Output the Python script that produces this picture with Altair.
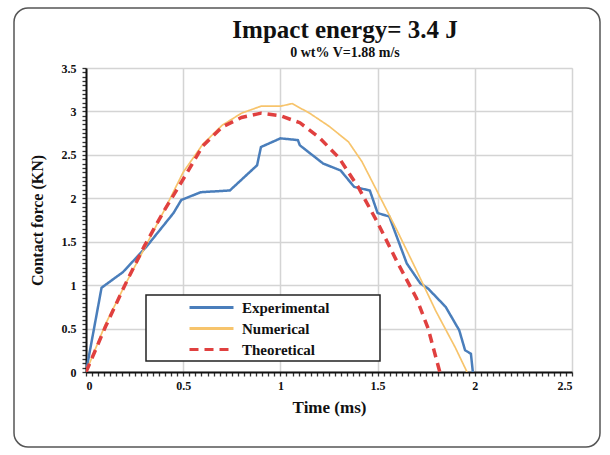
import altair as alt
import pandas as pd

# ---- data ----
exp_t = [0, 0.08, 0.19, 0.31, 0.45, 0.49, 0.59, 0.74, 0.88, 0.90, 1.00, 1.09, 1.10,
         1.22, 1.31, 1.38, 1.46, 1.50, 1.56, 1.65, 1.72, 1.76, 1.85, 1.92, 1.95, 1.98, 1.99]
exp_f = [0, 0.97, 1.15, 1.44, 1.83, 1.98, 2.07, 2.09, 2.38, 2.59, 2.69, 2.67, 2.61,
         2.40, 2.32, 2.13, 2.09, 1.83, 1.79, 1.25, 1.02, 0.96, 0.75, 0.48, 0.25, 0.21, 0]

num_t = [0, 0.1, 0.2, 0.3, 0.4, 0.5, 0.6, 0.7, 0.8, 0.9, 1.0, 1.06, 1.15, 1.25, 1.35,
         1.42, 1.5, 1.6, 1.7, 1.8, 1.9, 1.96]
num_f = [0, 0.55, 1.0, 1.42, 1.85, 2.3, 2.62, 2.84, 2.98, 3.06, 3.06, 3.09, 2.98, 2.83, 2.65,
         2.42, 2.07, 1.63, 1.17, 0.70, 0.28, 0]

th_t = [0, 0.1, 0.2, 0.3, 0.4, 0.5, 0.6, 0.7, 0.8, 0.9, 1.0, 1.1, 1.2, 1.3, 1.4, 1.5,
        1.6, 1.7, 1.76, 1.82]
th_f = [0, 0.52, 1.0, 1.45, 1.85, 2.22, 2.6, 2.82, 2.93, 2.98, 2.95, 2.87, 2.7, 2.47, 2.13,
        1.72, 1.27, 0.85, 0.5, 0]

series = ["Experimental", "Numerical", "Theoretical"]
colors = ["#4A7EBB", "#F7C46C", "#E0403F"]

title_text = "Impact energy= 3.4 J"
subtitle_text = "0 wt% V=1.88 m/s"

rows = []
for name, ts, fs in [("Experimental", exp_t, exp_f), ("Numerical", num_t, num_f),
                     ("Theoretical", th_t, th_f)]:
    for i, (t, f) in enumerate(zip(ts, fs)):
        rows.append({"series": name, "t": t, "f": f, "order": i})
df = pd.DataFrame(rows)

x_ticks = [round(i * 0.03125, 5) for i in range(0, 81)]
y_ticks = [round(i * 0.05, 3) for i in range(0, 71)]
major_test = "abs(datum.value*2 - round(datum.value*2)) < 1e-6"

FONT = "Liberation Serif"

x_axis = alt.Axis(
    values=x_ticks, labelExpr=f"{major_test} ? '' + datum.value : ''",
    grid=True, gridColor="#D4D4D4", gridWidth=1.5,
    gridOpacity={"condition": {"test": major_test, "value": 1}, "value": 0},
    tickColor="#333", tickSize=4, tickWidth=1.3,
    domainColor="#111", domainWidth=2,
    labelFont=FONT, labelFontWeight="bold", labelFontSize=12, labelColor="#111",
    labelPadding=4, title="Time (ms)", titleFont=FONT, titleFontSize=17,
    titleFontWeight="bold", titleColor="#111", titlePadding=8,
)
y_axis = alt.Axis(
    values=y_ticks, labelExpr=f"{major_test} ? '' + datum.value : ''",
    grid=True, gridColor="#D4D4D4", gridWidth=1.5,
    gridOpacity={"condition": {"test": major_test, "value": 1}, "value": 0},
    tickColor="#333", tickSize=4, tickWidth=1.3,
    domainColor="#111", domainWidth=2,
    labelFont=FONT, labelFontWeight="bold", labelFontSize=12, labelColor="#111",
    labelPadding=6, title="Contact force (KN)", titleFont=FONT, titleFontSize=16,
    titleFontWeight="bold", titleColor="#111", titlePadding=16,
)

one = pd.DataFrame({"a": [0]})

frame = alt.Chart(one).mark_rect(
    fill=None, stroke="#555", strokeWidth=1.5, cornerRadius=14
).encode(x=alt.value(-72), x2=alt.value(514), y=alt.value(-60), y2=alt.value(379))

title = alt.Chart(one).mark_text(
    font=FONT, fontSize=25, fontWeight="bold", color="#111", align="center",
    baseline="alphabetic"
).encode(x=alt.value(259), y=alt.value(-30), text=alt.value(title_text))

subtitle = alt.Chart(one).mark_text(
    font=FONT, fontSize=14, fontWeight="bold", color="#111", align="center",
    baseline="alphabetic"
).encode(x=alt.value(259), y=alt.value(-11), text=alt.value(subtitle_text))

legend_box = alt.Chart(one).mark_rect(
    fill="white", stroke="#222", strokeWidth=1.5
).encode(x=alt.value(60), x2=alt.value(294), y=alt.value(227), y2=alt.value(293))

lines = alt.Chart(df).mark_line(clip=True).encode(
    x=alt.X("t:Q", scale=alt.Scale(domain=[0, 2.5], nice=False), axis=x_axis),
    y=alt.Y("f:Q", scale=alt.Scale(domain=[0, 3.5], nice=False), axis=y_axis),
    order="order:Q",
    color=alt.Color("series:N", scale=alt.Scale(domain=series, range=colors),
                    legend=alt.Legend(
                        title=None, orient="none", legendX=113, legendY=227,
                        symbolType="M-2,0H2", symbolSize=484, symbolStrokeWidth=3,
                        labelOffset=18, rowPadding=0, padding=0,
                        labelFont=FONT, labelFontWeight="bold", labelFontSize=15,
                        labelColor="#111")),
    strokeDash=alt.StrokeDash("series:N", scale=alt.Scale(domain=series,
                              range=[[1, 0], [1, 0], [9, 6]]), legend=None),
    strokeWidth=alt.when(alt.datum.series == "Theoretical").then(alt.value(3.5))
               .when(alt.datum.series == "Numerical").then(alt.value(1.7))
               .otherwise(alt.value(2.5)),
)

chart = alt.layer(frame, title, subtitle, legend_box, lines).properties(
    width=486, height=304,
    padding={"left": 86, "top": 68, "right": 38, "bottom": 83},
    autosize=alt.AutoSizeParams(type="none"),
).configure_view(stroke="#BFBFBF", strokeWidth=2).configure(
    background="white", font=FONT)

chart.save("out.html", embed_options={"renderer": "svg", "actions": False})
